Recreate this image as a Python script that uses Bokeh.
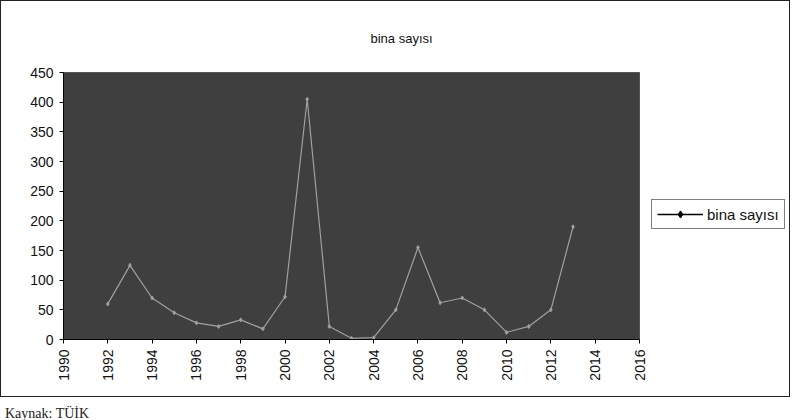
from bokeh.plotting import figure
from bokeh.models import (Legend, LegendItem, ColumnDataSource, FixedTicker, Div, Range1d)
from bokeh.layouts import column, row
from bokeh.embed import file_html
from bokeh.resources import INLINE
import math

# ---- data ----
years = [1992, 1993, 1994, 1995, 1996, 1997, 1998, 1999, 2000, 2001, 2002,
         2003, 2004, 2005, 2006, 2007, 2008, 2009, 2010, 2011, 2012, 2013]
bina_sayisi = [60, 125, 70, 45, 28, 22, 33, 18, 72, 405, 22,
               2, 3, 50, 155, 62, 70, 50, 12, 22, 50, 190]
x_ticks = list(range(1990, 2017, 2))
y_ticks = list(range(0, 451, 50))
series_name = "bina sayısı"
chart_title = "bina sayısı"
source_note = "Kaynak: TÜİK"

FONT = "Liberation Sans"

W, H = 648, 395
BL, BR, BT, BB = 62, 10, 67, 57

p = figure(width=W, height=H, output_backend="svg", toolbar_location=None,
           x_range=Range1d(1990, 2016), y_range=Range1d(0, 450),
           min_border_left=BL, min_border_right=BR, min_border_top=BT,
           min_border_bottom=BB)

p.title.text = chart_title
p.title.align = "left"
p.title.offset = 307
p.title.standoff = 54
p.title.text_font = FONT
p.title.text_font_size = "13px"
p.title.text_font_style = "normal"
p.title.text_color = "#111111"

p.background_fill_color = "#3f3f3f"
p.border_fill_color = "white"
p.outline_line_color = "#555555"
p.grid.visible = False

src = ColumnDataSource(dict(x=years, y=bina_sayisi))
p.line("x", "y", source=src, line_color="#a0a0a0", line_width=1.2)
p.scatter("x", "y", source=src, marker="diamond", size=4, color="#a0a0a0")

for ax in (p.xaxis[0], p.yaxis[0]):
    ax.axis_line_color = "black"
    ax.major_tick_line_color = "black"
    ax.minor_tick_line_color = None
    ax.major_tick_out = 4
    ax.major_tick_in = 0
    ax.major_label_text_font = FONT
    ax.major_label_text_font_size = "14px"
    ax.major_label_text_color = "#111111"

p.xaxis[0].ticker = FixedTicker(ticks=x_ticks)
p.xaxis[0].major_label_orientation = math.pi / 2
p.xaxis[0].major_label_standoff = 6
p.yaxis[0].ticker = FixedTicker(ticks=y_ticks)
p.yaxis[0].major_label_standoff = 6

# ---- legend panel (separate small figure to the right) ----
p2 = figure(width=140, height=H, output_backend="svg", toolbar_location=None,
            x_range=Range1d(0, 1), y_range=Range1d(0, 1),
            x_axis_type=None, y_axis_type=None,
            min_border_left=0, min_border_right=0, min_border_top=0,
            min_border_bottom=0)
p2.outline_line_color = None
p2.background_fill_color = "white"
p2.border_fill_color = "white"
p2.grid.visible = False
# legend proxies: series data, black as printed in legend (outside this panel's view)
lg_line = p2.line("x", "y", source=src, line_color="black", line_width=1.5)
lg_mark = p2.scatter("x", "y", source=src, marker="diamond", size=7, color="black")

legend = Legend(items=[LegendItem(label=series_name, renderers=[lg_line, lg_mark])],
                location=(2, 110), orientation="vertical",
                border_line_color="black", border_line_width=1,
                background_fill_color="white", background_fill_alpha=1,
                label_text_font=FONT, label_text_font_size="15px",
                label_text_color="#111111",
                glyph_width=46, glyph_height=18, label_standoff=4,
                padding=5, spacing=0, margin=0)
p2.add_layout(legend, "center")

chart = row(p, p2, spacing=0)
chart.styles = {"border": "1px solid #222"}

note = Div(text=source_note, styles={"font-family": "Liberation Serif",
                                      "font-size": "14px", "color": "#222"})

layout = column(chart, note, spacing=2)
open("out.html", "w").write(file_html(layout, INLINE))
